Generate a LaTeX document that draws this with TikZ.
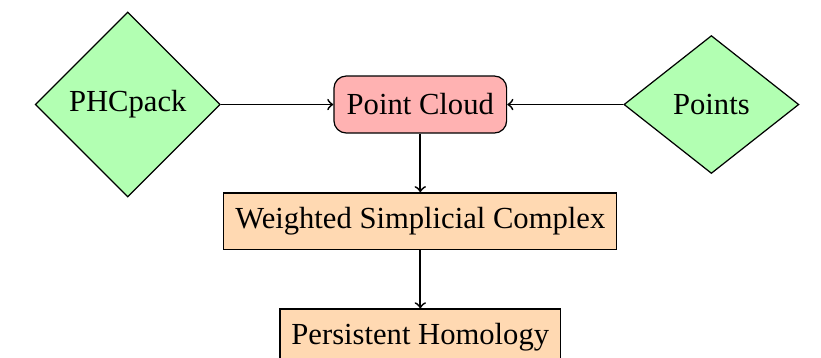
\documentclass[tikz,border=0pt]{standalone}
\usepackage{fontspec}
\setmainfont{Liberation Serif}
\usetikzlibrary{shapes.geometric}

\tikzset{
    decision/.style={diamond, draw, fill=green!30, inner sep=0pt},
    cloudbox/.style={rectangle, draw, rounded corners=4.8pt, fill=red!30, minimum height=0.785cm, inner xsep=5pt},
    stagebox/.style={rectangle, draw, fill=orange!30, minimum height=0.785cm, inner xsep=4.5pt},
    flow/.style={draw, ->, line width=0.7pt}
}

\begin{document}
\begin{tikzpicture}[font=\fontsize{12}{14}\selectfont, line width=0.48pt]
    \useasboundingbox (0,0) rectangle (11.31,-4.92);
    % sources
    \node[decision, minimum width=2.55cm, minimum height=2.55cm] (phc) at (1.76,-1.44) {PHCpack};
    \node[decision, minimum width=2.41cm, minimum height=1.90cm] (pts) at (9.80,-1.44) {Points};
    % pipeline
    \node[cloudbox] (cloud) at (5.79,-1.44) {Point Cloud};
    \node[stagebox] (wsc) at (5.79,-3.05) {Weighted Simplicial Complex};
    \node[stagebox] (ph) at (5.79,-4.65) {Persistent Homology};

    \path[flow] (phc) -- (cloud);
    \path[flow] (pts) -- (cloud);
    \path[flow] (cloud) -- (wsc);
    \path[flow] (wsc) -- (ph);
\end{tikzpicture}
\end{document}
